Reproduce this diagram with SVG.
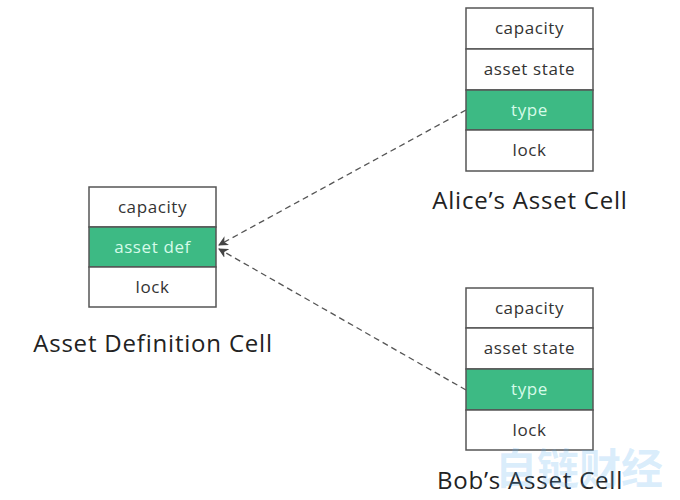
<svg xmlns="http://www.w3.org/2000/svg" width="680" height="500" viewBox="0 0 680 500">
<style>
.box{fill:#ffffff;stroke:#555555;stroke-width:1.5}
.hl{fill:#3dba84;stroke:#555555;stroke-width:1.5}
.t{font-family:"Open Sans","Liberation Sans",sans-serif;font-size:17px;letter-spacing:0.6px;fill:#333333;text-anchor:middle}
.th{font-family:"Open Sans","Liberation Sans",sans-serif;font-size:17px;letter-spacing:0.6px;fill:#d6fbe9;text-anchor:middle}
.lbl{font-family:"Open Sans","Liberation Sans",sans-serif;font-size:24px;letter-spacing:0.8px;fill:#222222;text-anchor:middle}
.conn{stroke:#555555;stroke-width:1.3;stroke-dasharray:6,4;fill:none}
</style>
<defs>
<marker id="ah" viewBox="0 0 10 10" refX="9" refY="5" markerWidth="10" markerHeight="10" markerUnits="userSpaceOnUse" orient="auto">
<path d="M0,0 L10,5 L0,10 L3,5 z" fill="#444444"/>
</marker>
</defs>
<rect width="680" height="500" fill="#ffffff"/>
<g id="connectors">
<line class="conn" x1="466" y1="110" x2="219" y2="245" marker-end="url(#ah)"/>
<line class="conn" x1="466" y1="390" x2="219" y2="249" marker-end="url(#ah)"/>
</g>
<g id="asset-definition-cell">
<rect class="box" x="89" y="187" width="127" height="40"/>
<rect class="hl" x="89" y="227" width="127" height="40"/>
<rect class="box" x="89" y="267" width="127" height="40"/>
<text class="t" x="152.5" y="213">capacity</text>
<text class="th" x="152.5" y="253">asset def</text>
<text class="t" x="152.5" y="293">lock</text>
<text class="lbl" x="153" y="352">Asset Definition Cell</text>
</g>
<g id="alice-asset-cell">
<rect class="box" x="466" y="8" width="127" height="41"/>
<rect class="box" x="466" y="49" width="127" height="41"/>
<rect class="hl" x="466" y="90" width="127" height="40"/>
<rect class="box" x="466" y="130" width="127" height="41"/>
<text class="t" x="529.5" y="34">capacity</text>
<text class="t" x="529.5" y="75">asset state</text>
<text class="th" x="529.5" y="116">type</text>
<text class="t" x="529.5" y="156">lock</text>
<text class="lbl" x="530" y="209">Alice’s Asset Cell</text>
</g>
<g id="bob-asset-cell">
<rect class="box" x="466" y="288" width="127" height="40"/>
<rect class="box" x="466" y="328" width="127" height="41"/>
<rect class="hl" x="466" y="369" width="127" height="41"/>
<rect class="box" x="466" y="410" width="127" height="40"/>
<text class="t" x="529.5" y="314">capacity</text>
<text class="t" x="529.5" y="354">asset state</text>
<text class="th" x="529.5" y="395">type</text>
<text class="t" x="529.5" y="436">lock</text>
<text class="lbl" x="530" y="489">Bob’s Asset Cell</text>
</g>
<g id="watermark">
<text x="579" y="484" font-family="Noto Sans CJK SC,sans-serif" font-size="42" font-weight="bold" fill="#5aaef0" fill-opacity="0.22" text-anchor="middle">自链财经</text>
</g>
</svg>
